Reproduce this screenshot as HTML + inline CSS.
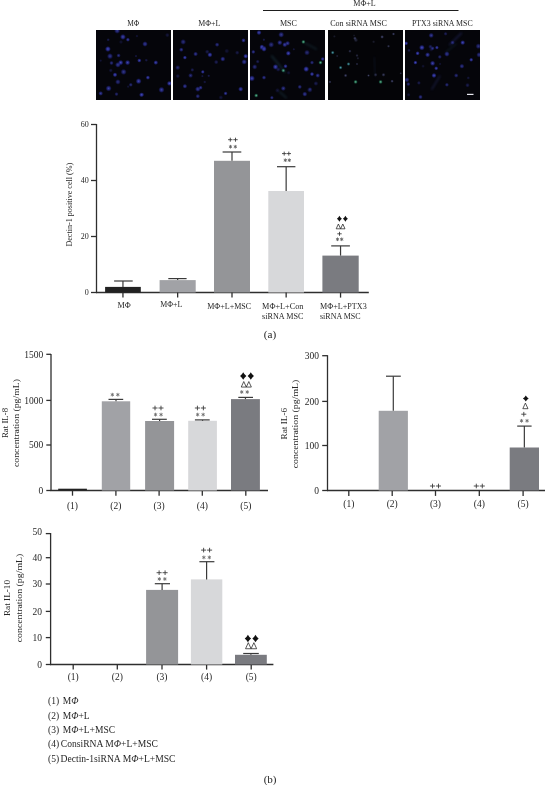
<!DOCTYPE html>
<html><head><meta charset="utf-8"><style>
html,body{margin:0;padding:0;background:#fff;width:545px;height:785px;overflow:hidden}
svg{display:block;will-change:transform;font-family:"Liberation Serif",serif} 
</style></head><body>
<svg width="545" height="785" viewBox="0 0 545 785">
<rect x="96" y="30" width="75" height="70" fill="#05050a"/>
<rect x="173" y="30" width="75" height="70" fill="#05050a"/>
<rect x="250" y="30" width="75" height="70" fill="#05050a"/>
<rect x="328" y="30" width="75" height="70" fill="#040407"/>
<rect x="405" y="30" width="75" height="70" fill="#05050a"/>
<defs><radialGradient id="bd"><stop offset="0" stop-color="#5058d8"/><stop offset="0.55" stop-color="#2a2e9c" stop-opacity="0.8"/><stop offset="1" stop-color="#141660" stop-opacity="0"/></radialGradient><radialGradient id="gd"><stop offset="0" stop-color="#7fd8a8"/><stop offset="0.45" stop-color="#2f8a68" stop-opacity="0.85"/><stop offset="1" stop-color="#10402a" stop-opacity="0"/></radialGradient><radialGradient id="fd4"><stop offset="0" stop-color="#6a70a0"/><stop offset="0.5" stop-color="#3a3e68" stop-opacity="0.8"/><stop offset="1" stop-color="#1a1c30" stop-opacity="0"/></radialGradient><radialGradient id="cd"><stop offset="0" stop-color="#6fc8d0"/><stop offset="0.45" stop-color="#2f7a88" stop-opacity="0.85"/><stop offset="1" stop-color="#10302a" stop-opacity="0"/></radialGradient><clipPath id="pc"><rect x="96" y="30" width="75" height="70"/><rect x="173" y="30" width="75" height="70"/><rect x="250" y="30" width="75" height="70"/><rect x="328" y="30" width="75" height="70"/><rect x="405" y="30" width="75" height="70"/></clipPath></defs>
<g clip-path="url(#pc)">
<circle cx="121.0" cy="42.0" r="2.2" fill="url(#bd)" opacity="0.21"/>
<circle cx="136.0" cy="56.1" r="1.6" fill="url(#bd)" opacity="0.30"/>
<circle cx="100.7" cy="60.6" r="1.6" fill="url(#bd)" opacity="0.22"/>
<circle cx="128.1" cy="86.6" r="1.6" fill="url(#bd)" opacity="0.24"/>
<circle cx="142.5" cy="94.5" r="2.1" fill="url(#bd)" opacity="0.28"/>
<circle cx="167.3" cy="35.1" r="2.4" fill="url(#bd)" opacity="0.26"/>
<circle cx="108.2" cy="39.8" r="1.8" fill="url(#bd)" opacity="0.36"/>
<circle cx="110.8" cy="70.4" r="2.2" fill="url(#bd)" opacity="0.27"/>
<circle cx="136.9" cy="36.1" r="1.6" fill="url(#bd)" opacity="0.24"/>
<circle cx="146.3" cy="60.2" r="1.8" fill="url(#bd)" opacity="0.32"/>
<circle cx="207.2" cy="51.8" r="2.4" fill="url(#bd)" opacity="0.34"/>
<circle cx="192.3" cy="69.9" r="2.1" fill="url(#bd)" opacity="0.38"/>
<circle cx="226.8" cy="51.0" r="2.6" fill="url(#bd)" opacity="0.22"/>
<circle cx="204.7" cy="82.0" r="1.7" fill="url(#bd)" opacity="0.30"/>
<circle cx="177.8" cy="76.1" r="2.3" fill="url(#bd)" opacity="0.31"/>
<circle cx="237.2" cy="52.7" r="2.3" fill="url(#bd)" opacity="0.32"/>
<circle cx="216.2" cy="62.1" r="2.4" fill="url(#bd)" opacity="0.39"/>
<circle cx="208.7" cy="75.8" r="1.6" fill="url(#bd)" opacity="0.34"/>
<circle cx="220.9" cy="97.5" r="2.4" fill="url(#bd)" opacity="0.26"/>
<circle cx="202.4" cy="76.1" r="1.5" fill="url(#bd)" opacity="0.29"/>
<circle cx="263.9" cy="39.7" r="1.6" fill="url(#bd)" opacity="0.35"/>
<circle cx="261.2" cy="48.3" r="1.9" fill="url(#bd)" opacity="0.37"/>
<circle cx="257.7" cy="61.6" r="2.1" fill="url(#bd)" opacity="0.38"/>
<circle cx="310.2" cy="89.0" r="1.8" fill="url(#bd)" opacity="0.28"/>
<circle cx="277.5" cy="90.4" r="2.6" fill="url(#bd)" opacity="0.23"/>
<circle cx="264.5" cy="47.3" r="1.8" fill="url(#bd)" opacity="0.30"/>
<circle cx="293.8" cy="49.3" r="1.5" fill="url(#bd)" opacity="0.28"/>
<circle cx="278.2" cy="69.4" r="2.5" fill="url(#bd)" opacity="0.34"/>
<circle cx="288.6" cy="72.8" r="2.2" fill="url(#bd)" opacity="0.21"/>
<circle cx="315.9" cy="83.5" r="2.5" fill="url(#bd)" opacity="0.36"/>
<circle cx="357.9" cy="58.3" r="1.6" fill="url(#fd4)" opacity="0.33"/>
<circle cx="334.4" cy="36.4" r="1.7" fill="url(#fd4)" opacity="0.23"/>
<circle cx="354.1" cy="35.5" r="1.5" fill="url(#fd4)" opacity="0.23"/>
<circle cx="337.2" cy="56.0" r="1.5" fill="url(#fd4)" opacity="0.37"/>
<circle cx="373.6" cy="41.8" r="1.8" fill="url(#fd4)" opacity="0.27"/>
<circle cx="355.9" cy="40.1" r="2.4" fill="url(#fd4)" opacity="0.40"/>
<circle cx="440.1" cy="63.9" r="1.6" fill="url(#bd)" opacity="0.22"/>
<circle cx="431.3" cy="49.5" r="2.4" fill="url(#bd)" opacity="0.23"/>
<circle cx="408.6" cy="94.8" r="2.1" fill="url(#bd)" opacity="0.23"/>
<circle cx="445.6" cy="33.8" r="2.1" fill="url(#bd)" opacity="0.40"/>
<circle cx="468.3" cy="77.9" r="1.8" fill="url(#bd)" opacity="0.27"/>
<circle cx="418.9" cy="82.9" r="2.1" fill="url(#bd)" opacity="0.36"/>
<circle cx="430.4" cy="46.7" r="2.4" fill="url(#bd)" opacity="0.40"/>
<circle cx="467.5" cy="85.2" r="2.4" fill="url(#bd)" opacity="0.35"/>
<circle cx="423.1" cy="66.2" r="1.9" fill="url(#bd)" opacity="0.21"/>
<circle cx="409.0" cy="50.4" r="1.8" fill="url(#bd)" opacity="0.34"/>
<circle cx="117.2" cy="30.7" r="3.2" fill="url(#bd)" opacity="0.68"/>
<circle cx="107.9" cy="49" r="3.1" fill="url(#bd)" opacity="0.90"/>
<circle cx="110" cy="56.2" r="3.2" fill="url(#bd)" opacity="0.65"/>
<circle cx="111.5" cy="63" r="2.3" fill="url(#bd)" opacity="0.59"/>
<circle cx="118.6" cy="55.5" r="2.3" fill="url(#bd)" opacity="0.58"/>
<circle cx="120.7" cy="62.6" r="2.8" fill="url(#bd)" opacity="0.86"/>
<circle cx="117.9" cy="64.8" r="3.0" fill="url(#bd)" opacity="0.69"/>
<circle cx="127.6" cy="62.6" r="2.8" fill="url(#bd)" opacity="0.82"/>
<circle cx="127.9" cy="39.7" r="2.2" fill="url(#bd)" opacity="0.76"/>
<circle cx="122.9" cy="36.9" r="3.1" fill="url(#bd)" opacity="0.81"/>
<circle cx="145" cy="44" r="2.9" fill="url(#bd)" opacity="0.69"/>
<circle cx="139.3" cy="60.5" r="2.3" fill="url(#bd)" opacity="0.82"/>
<circle cx="155.8" cy="62.6" r="2.5" fill="url(#bd)" opacity="0.82"/>
<circle cx="123.6" cy="71.9" r="3.2" fill="url(#bd)" opacity="0.66"/>
<circle cx="115" cy="74.8" r="2.5" fill="url(#bd)" opacity="0.88"/>
<circle cx="117.9" cy="81.9" r="2.9" fill="url(#bd)" opacity="0.57"/>
<circle cx="130.8" cy="84.8" r="2.2" fill="url(#bd)" opacity="0.56"/>
<circle cx="138.6" cy="81.2" r="3.1" fill="url(#bd)" opacity="0.82"/>
<circle cx="147.9" cy="77.6" r="2.3" fill="url(#bd)" opacity="0.83"/>
<circle cx="108.6" cy="88.4" r="3.2" fill="url(#bd)" opacity="0.76"/>
<circle cx="100.7" cy="93.4" r="2.5" fill="url(#bd)" opacity="0.72"/>
<circle cx="116.5" cy="94.1" r="2.2" fill="url(#bd)" opacity="0.51"/>
<circle cx="161.5" cy="89.8" r="3.2" fill="url(#bd)" opacity="0.76"/>
<circle cx="169.4" cy="83.4" r="2.7" fill="url(#bd)" opacity="0.87"/>
<circle cx="141.5" cy="94.8" r="2.6" fill="url(#bd)" opacity="0.85"/>
<circle cx="183.2" cy="41.9" r="3.0" fill="url(#bd)" opacity="0.58"/>
<circle cx="217.1" cy="44.7" r="2.4" fill="url(#bd)" opacity="0.62"/>
<circle cx="243.5" cy="40.4" r="2.4" fill="url(#bd)" opacity="0.73"/>
<circle cx="181.3" cy="49.7" r="2.4" fill="url(#bd)" opacity="0.67"/>
<circle cx="184.9" cy="57.6" r="2.2" fill="url(#bd)" opacity="0.86"/>
<circle cx="195.6" cy="54" r="2.5" fill="url(#bd)" opacity="0.68"/>
<circle cx="209.9" cy="54.8" r="2.7" fill="url(#bd)" opacity="0.86"/>
<circle cx="245.7" cy="56.2" r="2.6" fill="url(#bd)" opacity="0.87"/>
<circle cx="222.8" cy="59" r="2.7" fill="url(#bd)" opacity="0.71"/>
<circle cx="177.7" cy="67.6" r="2.7" fill="url(#bd)" opacity="0.51"/>
<circle cx="190.6" cy="75.5" r="2.6" fill="url(#bd)" opacity="0.57"/>
<circle cx="202.8" cy="71.9" r="2.1" fill="url(#bd)" opacity="0.82"/>
<circle cx="200.6" cy="87.7" r="2.3" fill="url(#bd)" opacity="0.69"/>
<circle cx="197.8" cy="89.1" r="2.9" fill="url(#bd)" opacity="0.72"/>
<circle cx="184.9" cy="86.2" r="2.5" fill="url(#bd)" opacity="0.71"/>
<circle cx="240.7" cy="89.1" r="2.7" fill="url(#bd)" opacity="0.81"/>
<circle cx="225.6" cy="93.4" r="2.2" fill="url(#bd)" opacity="0.72"/>
<circle cx="197.8" cy="96.2" r="2.4" fill="url(#bd)" opacity="0.61"/>
<circle cx="244.2" cy="61.9" r="2.9" fill="url(#bd)" opacity="0.70"/>
<circle cx="259" cy="32.6" r="2.7" fill="url(#bd)" opacity="0.80"/>
<circle cx="281.2" cy="34.7" r="3.1" fill="url(#bd)" opacity="0.68"/>
<circle cx="279.8" cy="42.6" r="2.8" fill="url(#bd)" opacity="0.70"/>
<circle cx="284.8" cy="44.7" r="2.7" fill="url(#bd)" opacity="0.78"/>
<circle cx="287.6" cy="43.3" r="2.6" fill="url(#bd)" opacity="0.71"/>
<circle cx="261.9" cy="46.9" r="2.6" fill="url(#bd)" opacity="0.88"/>
<circle cx="264" cy="49" r="2.9" fill="url(#bd)" opacity="0.85"/>
<circle cx="271.2" cy="44.7" r="3.1" fill="url(#bd)" opacity="0.60"/>
<circle cx="288.3" cy="53.3" r="2.7" fill="url(#bd)" opacity="0.88"/>
<circle cx="307" cy="52.6" r="3.0" fill="url(#bd)" opacity="0.55"/>
<circle cx="253.3" cy="51.9" r="2.2" fill="url(#bd)" opacity="0.68"/>
<circle cx="312" cy="62.6" r="2.2" fill="url(#bd)" opacity="0.60"/>
<circle cx="322.7" cy="59" r="2.2" fill="url(#bd)" opacity="0.77"/>
<circle cx="275.5" cy="66.9" r="3.0" fill="url(#bd)" opacity="0.86"/>
<circle cx="285.5" cy="66.2" r="2.3" fill="url(#bd)" opacity="0.79"/>
<circle cx="254.7" cy="66.9" r="2.8" fill="url(#bd)" opacity="0.56"/>
<circle cx="306.2" cy="69.1" r="3.1" fill="url(#bd)" opacity="0.89"/>
<circle cx="312" cy="74.1" r="2.3" fill="url(#bd)" opacity="0.88"/>
<circle cx="317.7" cy="75.5" r="2.5" fill="url(#bd)" opacity="0.69"/>
<circle cx="251.9" cy="78.4" r="3.2" fill="url(#bd)" opacity="0.83"/>
<circle cx="264" cy="77.6" r="2.3" fill="url(#bd)" opacity="0.67"/>
<circle cx="283.3" cy="88.4" r="2.7" fill="url(#bd)" opacity="0.64"/>
<circle cx="299.8" cy="86.9" r="2.3" fill="url(#bd)" opacity="0.63"/>
<circle cx="309.8" cy="89.8" r="2.9" fill="url(#bd)" opacity="0.51"/>
<circle cx="304.8" cy="94.1" r="2.7" fill="url(#bd)" opacity="0.68"/>
<circle cx="271.9" cy="97.7" r="2.1" fill="url(#bd)" opacity="0.63"/>
<circle cx="431.2" cy="35.4" r="2.8" fill="url(#bd)" opacity="0.70"/>
<circle cx="406.1" cy="43.3" r="2.2" fill="url(#bd)" opacity="0.89"/>
<circle cx="421.9" cy="47.6" r="3.0" fill="url(#bd)" opacity="0.89"/>
<circle cx="432.6" cy="48.3" r="2.2" fill="url(#bd)" opacity="0.61"/>
<circle cx="436.9" cy="47.6" r="2.1" fill="url(#bd)" opacity="0.81"/>
<circle cx="452.6" cy="42.6" r="2.4" fill="url(#bd)" opacity="0.55"/>
<circle cx="462.7" cy="42.6" r="2.6" fill="url(#bd)" opacity="0.86"/>
<circle cx="478.4" cy="46.2" r="3.0" fill="url(#bd)" opacity="0.60"/>
<circle cx="417.6" cy="53.3" r="2.3" fill="url(#bd)" opacity="0.87"/>
<circle cx="427.6" cy="54.8" r="2.7" fill="url(#bd)" opacity="0.78"/>
<circle cx="439.8" cy="56.9" r="2.2" fill="url(#bd)" opacity="0.52"/>
<circle cx="446.9" cy="54" r="2.9" fill="url(#bd)" opacity="0.67"/>
<circle cx="415.4" cy="62.6" r="2.2" fill="url(#bd)" opacity="0.88"/>
<circle cx="432.6" cy="63.3" r="2.8" fill="url(#bd)" opacity="0.82"/>
<circle cx="436.2" cy="68.3" r="2.2" fill="url(#bd)" opacity="0.84"/>
<circle cx="471.2" cy="59.8" r="2.2" fill="url(#bd)" opacity="0.85"/>
<circle cx="461.9" cy="66.2" r="2.6" fill="url(#bd)" opacity="0.64"/>
<circle cx="434" cy="75.5" r="2.7" fill="url(#bd)" opacity="0.87"/>
<circle cx="456.2" cy="75.5" r="2.4" fill="url(#bd)" opacity="0.55"/>
<circle cx="406.9" cy="79.8" r="2.7" fill="url(#bd)" opacity="0.60"/>
<circle cx="408.3" cy="84.1" r="2.2" fill="url(#bd)" opacity="0.56"/>
<circle cx="446.9" cy="84.8" r="2.2" fill="url(#bd)" opacity="0.58"/>
<circle cx="420.5" cy="97" r="2.4" fill="url(#bd)" opacity="0.62"/>
<circle cx="479.1" cy="54.8" r="2.9" fill="url(#bd)" opacity="0.62"/>
<circle cx="349.9" cy="51.2" r="1.8" fill="url(#fd4)" opacity="0.50"/>
<circle cx="357" cy="55.5" r="1.7" fill="url(#fd4)" opacity="0.46"/>
<circle cx="357" cy="64" r="1.6" fill="url(#fd4)" opacity="0.45"/>
<circle cx="345.6" cy="75.5" r="2.0" fill="url(#fd4)" opacity="0.62"/>
<circle cx="368.5" cy="75.5" r="1.6" fill="url(#fd4)" opacity="0.59"/>
<circle cx="375.6" cy="74.8" r="2.1" fill="url(#fd4)" opacity="0.48"/>
<circle cx="383.5" cy="74.8" r="2.1" fill="url(#fd4)" opacity="0.58"/>
<circle cx="392.1" cy="81.2" r="1.8" fill="url(#fd4)" opacity="0.70"/>
<circle cx="329.9" cy="81.9" r="1.7" fill="url(#fd4)" opacity="0.60"/>
<circle cx="382.1" cy="36.9" r="2.0" fill="url(#fd4)" opacity="0.74"/>
<circle cx="393.5" cy="34" r="1.7" fill="url(#fd4)" opacity="0.70"/>
<circle cx="354.9" cy="38.3" r="2.0" fill="url(#fd4)" opacity="0.64"/>
<circle cx="388.5" cy="46.2" r="1.7" fill="url(#fd4)" opacity="0.55"/>
<circle cx="400.7" cy="73.3" r="1.4" fill="url(#fd4)" opacity="0.49"/>
<circle cx="303.4" cy="41.9" r="2.3" fill="url(#gd)" opacity="0.85"/>
<circle cx="320.5" cy="62.6" r="2.3" fill="url(#gd)" opacity="0.85"/>
<circle cx="283.3" cy="70.5" r="2.3" fill="url(#gd)" opacity="0.85"/>
<circle cx="256.2" cy="95.5" r="2.3" fill="url(#gd)" opacity="0.85"/>
<circle cx="380.6" cy="81.9" r="2.3" fill="url(#gd)" opacity="0.85"/>
<circle cx="355.6" cy="81.9" r="2.3" fill="url(#gd)" opacity="0.85"/>
<circle cx="332.7" cy="52.6" r="2.1" fill="url(#cd)" opacity="0.8"/>
<circle cx="348.5" cy="64" r="2.1" fill="url(#cd)" opacity="0.8"/>
<circle cx="340.6" cy="67.6" r="2.1" fill="url(#cd)" opacity="0.8"/>
<filter id="bl" x="-20%" y="-20%" width="140%" height="140%"><feGaussianBlur stdDeviation="0.9"/></filter>
<line filter="url(#bl)"  x1="271.9" y1="56.2" x2="284.8" y2="71.9" stroke="#2a5a6a" stroke-width="2.2" stroke-linecap="round" opacity="0.3"/>
<line filter="url(#bl)"  x1="305.5" y1="43.3" x2="316.2" y2="49" stroke="#2a5a6a" stroke-width="1.8" stroke-linecap="round" opacity="0.27"/>
<line filter="url(#bl)"  x1="279.8" y1="92" x2="286.2" y2="97.7" stroke="#2a5a6a" stroke-width="2" stroke-linecap="round" opacity="0.27"/>
<line filter="url(#bl)"  x1="449.8" y1="44.7" x2="461.2" y2="33.3" stroke="#3a44a0" stroke-width="1.8" stroke-linecap="round" opacity="0.33"/>
<line filter="url(#bl)"  x1="439.8" y1="76.2" x2="431.9" y2="89.1" stroke="#3a44a0" stroke-width="1.6" stroke-linecap="round" opacity="0.3"/>
<line filter="url(#bl)"  x1="374.2" y1="57.6" x2="375.6" y2="76.2" stroke="#1e2a4a" stroke-width="1.5" stroke-linecap="round" opacity="0.3"/>
<line filter="url(#bl)"  x1="446" y1="52" x2="456" y2="44" stroke="#2a5a6a" stroke-width="1.5" stroke-linecap="round" opacity="0.24"/>
</g>
<rect x="467" y="93.8" width="6.5" height="1.2" fill="#e8e8f0"/>
<text x="133.2" y="25.6" font-size="8.2" text-anchor="middle" fill="#262626" textLength="12.1" lengthAdjust="spacingAndGlyphs" >MΦ</text>
<text x="209.3" y="25.6" font-size="8.2" text-anchor="middle" fill="#262626" textLength="22" lengthAdjust="spacingAndGlyphs" >MΦ+L</text>
<text x="288.4" y="25.6" font-size="8.2" text-anchor="middle" fill="#262626" textLength="17" lengthAdjust="spacingAndGlyphs" >MSC</text>
<text x="358.5" y="25.6" font-size="8.2" text-anchor="middle" fill="#262626" textLength="56.6" lengthAdjust="spacingAndGlyphs" >Con siRNA MSC</text>
<text x="442.3" y="25.6" font-size="8.2" text-anchor="middle" fill="#262626" textLength="60.7" lengthAdjust="spacingAndGlyphs" >PTX3 siRNA MSC</text>
<text x="364.5" y="5.6" font-size="8.2" text-anchor="middle" fill="#262626" textLength="22.5" lengthAdjust="spacingAndGlyphs" >MΦ+L</text>
<line x1="263" y1="10.5" x2="458.5" y2="10.5" stroke="#1e1e1e" stroke-width="1.0"/>
<line x1="96.5" y1="124.0" x2="96.5" y2="293.1" stroke="#2e2e2e" stroke-width="1.3"/>
<line x1="95.9" y1="292.5" x2="368.8" y2="292.5" stroke="#2e2e2e" stroke-width="1.3"/>
<line x1="91.0" y1="292.5" x2="96.5" y2="292.5" stroke="#2e2e2e" stroke-width="1.3"/>
<text x="88.7" y="295.22" font-size="8" text-anchor="end" fill="#262626" >0</text>
<line x1="91.0" y1="236.5" x2="96.5" y2="236.5" stroke="#2e2e2e" stroke-width="1.3"/>
<text x="88.7" y="239.22" font-size="8" text-anchor="end" fill="#262626" >20</text>
<line x1="91.0" y1="180.5" x2="96.5" y2="180.5" stroke="#2e2e2e" stroke-width="1.3"/>
<text x="88.7" y="183.22" font-size="8" text-anchor="end" fill="#262626" >40</text>
<line x1="91.0" y1="124.5" x2="96.5" y2="124.5" stroke="#2e2e2e" stroke-width="1.3"/>
<text x="88.7" y="127.22" font-size="8" text-anchor="end" fill="#262626" >60</text>
<rect x="105.1" y="286.9" width="35.70000000000002" height="5.600000000000023" fill="#222222"/>
<line x1="122.95" y1="281.0" x2="122.95" y2="286.9" stroke="#3a3a3a" stroke-width="1.2"/>
<line x1="114.1" y1="281.0" x2="132.7" y2="281.0" stroke="#3a3a3a" stroke-width="1.2"/>
<line x1="122.95" y1="292.5" x2="122.95" y2="297.6" stroke="#2e2e2e" stroke-width="1.3"/>
<rect x="159.6" y="280.1" width="36.099999999999994" height="12.399999999999977" fill="#a1a2a6"/>
<line x1="177.64999999999998" y1="278.6" x2="177.64999999999998" y2="280.1" stroke="#3a3a3a" stroke-width="1.2"/>
<line x1="168.3" y1="278.6" x2="186.6" y2="278.6" stroke="#3a3a3a" stroke-width="1.2"/>
<line x1="177.64999999999998" y1="292.5" x2="177.64999999999998" y2="297.6" stroke="#2e2e2e" stroke-width="1.3"/>
<rect x="214.0" y="160.8" width="36.0" height="131.7" fill="#949598"/>
<line x1="232.0" y1="152.0" x2="232.0" y2="160.8" stroke="#3a3a3a" stroke-width="1.2"/>
<line x1="222.6" y1="152.0" x2="241.3" y2="152.0" stroke="#3a3a3a" stroke-width="1.2"/>
<line x1="232.0" y1="292.5" x2="232.0" y2="297.6" stroke="#2e2e2e" stroke-width="1.3"/>
<rect x="268.3" y="191.0" width="35.69999999999999" height="101.5" fill="#d7d8da"/>
<line x1="286.15" y1="166.7" x2="286.15" y2="191.0" stroke="#3a3a3a" stroke-width="1.2"/>
<line x1="277.0" y1="166.7" x2="295.4" y2="166.7" stroke="#3a3a3a" stroke-width="1.2"/>
<line x1="286.15" y1="292.5" x2="286.15" y2="297.6" stroke="#2e2e2e" stroke-width="1.3"/>
<rect x="322.4" y="255.6" width="36.30000000000001" height="36.900000000000006" fill="#7a7b80"/>
<line x1="340.54999999999995" y1="245.9" x2="340.54999999999995" y2="255.6" stroke="#3a3a3a" stroke-width="1.2"/>
<line x1="331.2" y1="245.9" x2="349.9" y2="245.9" stroke="#3a3a3a" stroke-width="1.2"/>
<line x1="340.54999999999995" y1="292.5" x2="340.54999999999995" y2="297.6" stroke="#2e2e2e" stroke-width="1.3"/>
<line x1="230.5" y1="144.9" x2="230.5" y2="148.5" stroke="#626262" stroke-width="0.9"/>
<line x1="228.94" y1="145.8" x2="232.06" y2="147.6" stroke="#626262" stroke-width="0.9"/>
<line x1="232.06" y1="145.8" x2="228.94" y2="147.6" stroke="#626262" stroke-width="0.9"/>
<line x1="235.3" y1="144.9" x2="235.3" y2="148.5" stroke="#626262" stroke-width="0.9"/>
<line x1="233.74" y1="145.8" x2="236.86" y2="147.6" stroke="#626262" stroke-width="0.9"/>
<line x1="236.86" y1="145.8" x2="233.74" y2="147.6" stroke="#626262" stroke-width="0.9"/>
<line x1="228.10000000000002" y1="139.7" x2="232.5" y2="139.7" stroke="#333" stroke-width="0.85"/>
<line x1="230.3" y1="137.7" x2="230.3" y2="141.7" stroke="#333" stroke-width="0.85"/>
<line x1="233.3" y1="139.7" x2="237.7" y2="139.7" stroke="#333" stroke-width="0.85"/>
<line x1="235.5" y1="137.7" x2="235.5" y2="141.7" stroke="#333" stroke-width="0.85"/>
<line x1="285.3" y1="158.4" x2="285.3" y2="162.0" stroke="#626262" stroke-width="0.9"/>
<line x1="283.74" y1="159.3" x2="286.86" y2="161.1" stroke="#626262" stroke-width="0.9"/>
<line x1="286.86" y1="159.3" x2="283.74" y2="161.1" stroke="#626262" stroke-width="0.9"/>
<line x1="289.3" y1="158.4" x2="289.3" y2="162.0" stroke="#626262" stroke-width="0.9"/>
<line x1="287.74" y1="159.3" x2="290.86" y2="161.1" stroke="#626262" stroke-width="0.9"/>
<line x1="290.86" y1="159.3" x2="287.74" y2="161.1" stroke="#626262" stroke-width="0.9"/>
<line x1="282.0" y1="153.6" x2="286.4" y2="153.6" stroke="#333" stroke-width="0.85"/>
<line x1="284.2" y1="151.6" x2="284.2" y2="155.6" stroke="#333" stroke-width="0.85"/>
<line x1="286.6" y1="153.6" x2="291.0" y2="153.6" stroke="#333" stroke-width="0.85"/>
<line x1="288.8" y1="151.6" x2="288.8" y2="155.6" stroke="#333" stroke-width="0.85"/>
<line x1="337.5" y1="237.5" x2="337.5" y2="241.1" stroke="#626262" stroke-width="0.9"/>
<line x1="335.94" y1="238.4" x2="339.06" y2="240.2" stroke="#626262" stroke-width="0.9"/>
<line x1="339.06" y1="238.4" x2="335.94" y2="240.2" stroke="#626262" stroke-width="0.9"/>
<line x1="341.7" y1="237.5" x2="341.7" y2="241.1" stroke="#626262" stroke-width="0.9"/>
<line x1="340.14" y1="238.4" x2="343.26" y2="240.2" stroke="#626262" stroke-width="0.9"/>
<line x1="343.26" y1="238.4" x2="340.14" y2="240.2" stroke="#626262" stroke-width="0.9"/>
<line x1="337.3" y1="233.8" x2="341.7" y2="233.8" stroke="#333" stroke-width="0.85"/>
<line x1="339.5" y1="231.8" x2="339.5" y2="235.8" stroke="#333" stroke-width="0.85"/>
<path d="M336.20,228.80 L338.40,224.00 L340.60,228.80 Z" fill="none" stroke="#222" stroke-width="0.75" stroke-linejoin="miter"/>
<path d="M340.60,228.80 L342.80,224.00 L345.00,228.80 Z" fill="none" stroke="#222" stroke-width="0.75" stroke-linejoin="miter"/>
<path d="M339.40,215.70 Q340.35,217.56 341.90,218.70 Q340.35,219.84 339.40,221.70 Q338.45,219.84 336.90,218.70 Q338.45,217.56 339.40,215.70 Z" fill="#111"/>
<path d="M345.40,215.70 Q346.35,217.56 347.90,218.70 Q346.35,219.84 345.40,221.70 Q344.45,219.84 342.90,218.70 Q344.45,217.56 345.40,215.70 Z" fill="#111"/>
<text x="124.2" y="308" font-size="8" text-anchor="middle" fill="#262626" textLength="13.2" lengthAdjust="spacingAndGlyphs" >MΦ</text>
<text x="171.2" y="306.5" font-size="8" text-anchor="middle" fill="#262626" textLength="22" lengthAdjust="spacingAndGlyphs" >MΦ+L</text>
<text x="229.2" y="309" font-size="8" text-anchor="middle" fill="#262626" textLength="44" lengthAdjust="spacingAndGlyphs" >MΦ+L+MSC</text>
<text x="262.1" y="308.5" font-size="8" text-anchor="start" fill="#262626" textLength="41.4" lengthAdjust="spacingAndGlyphs" >MΦ+L+Con</text>
<text x="262.1" y="319.3" font-size="8" text-anchor="start" fill="#262626" textLength="41.4" lengthAdjust="spacingAndGlyphs" >siRNA MSC</text>
<text x="320" y="308.5" font-size="8" text-anchor="start" fill="#262626" textLength="46.7" lengthAdjust="spacingAndGlyphs" >MΦ+L+PTX3</text>
<text x="320" y="319.3" font-size="8" text-anchor="start" fill="#262626" textLength="40.6" lengthAdjust="spacingAndGlyphs" >siRNA MSC</text>
<text transform="translate(71.5,204.7) rotate(-90)" font-size="8.5" text-anchor="middle" fill="#262626" textLength="83.8" lengthAdjust="spacingAndGlyphs">Dectin-1 positive cell (%)</text>
<text x="270.0" y="338.4" font-size="11" text-anchor="middle" fill="#262626" textLength="12.4" lengthAdjust="spacingAndGlyphs" >(a)</text>
<line x1="51.0" y1="354.0" x2="51.0" y2="491.1" stroke="#2e2e2e" stroke-width="1.3"/>
<line x1="50.4" y1="490.5" x2="268.0" y2="490.5" stroke="#2e2e2e" stroke-width="1.3"/>
<line x1="46.3" y1="490.5" x2="51.0" y2="490.5" stroke="#2e2e2e" stroke-width="1.3"/>
<text x="43.3" y="493.73" font-size="9.5" text-anchor="end" fill="#262626" >0</text>
<line x1="46.3" y1="445.0" x2="51.0" y2="445.0" stroke="#2e2e2e" stroke-width="1.3"/>
<text x="43.3" y="448.23" font-size="9.5" text-anchor="end" fill="#262626" >500</text>
<line x1="46.3" y1="400.4" x2="51.0" y2="400.4" stroke="#2e2e2e" stroke-width="1.3"/>
<text x="43.3" y="403.63" font-size="9.5" text-anchor="end" fill="#262626" >1000</text>
<line x1="46.3" y1="354.3" x2="51.0" y2="354.3" stroke="#2e2e2e" stroke-width="1.3"/>
<text x="43.3" y="357.53" font-size="9.5" text-anchor="end" fill="#262626" >1500</text>
<line x1="72.5" y1="490.5" x2="72.5" y2="495.7" stroke="#2e2e2e" stroke-width="1.3"/>
<text x="72.5" y="508.6" font-size="9.5" text-anchor="middle" fill="#262626" >(1)</text>
<line x1="115.9" y1="490.5" x2="115.9" y2="495.7" stroke="#2e2e2e" stroke-width="1.3"/>
<text x="115.9" y="508.6" font-size="9.5" text-anchor="middle" fill="#262626" >(2)</text>
<line x1="159.1" y1="490.5" x2="159.1" y2="495.7" stroke="#2e2e2e" stroke-width="1.3"/>
<text x="159.1" y="508.6" font-size="9.5" text-anchor="middle" fill="#262626" >(3)</text>
<line x1="202.3" y1="490.5" x2="202.3" y2="495.7" stroke="#2e2e2e" stroke-width="1.3"/>
<text x="202.3" y="508.6" font-size="9.5" text-anchor="middle" fill="#262626" >(4)</text>
<line x1="245.8" y1="490.5" x2="245.8" y2="495.7" stroke="#2e2e2e" stroke-width="1.3"/>
<text x="245.8" y="508.6" font-size="9.5" text-anchor="middle" fill="#262626" >(5)</text>
<rect x="58.2" y="488.7" width="28.700000000000003" height="1.8000000000000114" fill="#222222"/>
<rect x="101.8" y="401.3" width="28.39999999999999" height="89.19999999999999" fill="#a1a2a6"/>
<line x1="116.0" y1="399.4" x2="116.0" y2="401.3" stroke="#3a3a3a" stroke-width="1.2"/>
<line x1="108.5" y1="399.4" x2="123.2" y2="399.4" stroke="#3a3a3a" stroke-width="1.2"/>
<rect x="145.1" y="421.0" width="29.0" height="69.5" fill="#949598"/>
<line x1="159.6" y1="419.3" x2="159.6" y2="421.0" stroke="#3a3a3a" stroke-width="1.2"/>
<line x1="152.0" y1="419.3" x2="166.8" y2="419.3" stroke="#3a3a3a" stroke-width="1.2"/>
<rect x="188.2" y="420.8" width="28.700000000000017" height="69.69999999999999" fill="#d7d8da"/>
<line x1="202.55" y1="419.9" x2="202.55" y2="420.8" stroke="#3a3a3a" stroke-width="1.2"/>
<line x1="194.9" y1="419.9" x2="209.7" y2="419.9" stroke="#3a3a3a" stroke-width="1.2"/>
<rect x="231.0" y="399.1" width="28.899999999999977" height="91.39999999999998" fill="#7a7b80"/>
<line x1="245.45" y1="397.4" x2="245.45" y2="399.1" stroke="#3a3a3a" stroke-width="1.2"/>
<line x1="238.3" y1="397.4" x2="253.0" y2="397.4" stroke="#3a3a3a" stroke-width="1.2"/>
<line x1="112.34" y1="392.85" x2="112.34" y2="396.55" stroke="#6e6e6e" stroke-width="0.9"/>
<line x1="110.74" y1="393.77" x2="113.94" y2="395.62" stroke="#6e6e6e" stroke-width="0.9"/>
<line x1="113.94" y1="393.77" x2="110.74" y2="395.62" stroke="#6e6e6e" stroke-width="0.9"/>
<line x1="117.86" y1="392.85" x2="117.86" y2="396.55" stroke="#6e6e6e" stroke-width="0.9"/>
<line x1="116.26" y1="393.77" x2="119.46" y2="395.62" stroke="#6e6e6e" stroke-width="0.9"/>
<line x1="119.46" y1="393.77" x2="116.26" y2="395.62" stroke="#6e6e6e" stroke-width="0.9"/>
<line x1="155.54" y1="412.75" x2="155.54" y2="416.45" stroke="#6e6e6e" stroke-width="0.9"/>
<line x1="153.94" y1="413.68" x2="157.14" y2="415.53" stroke="#6e6e6e" stroke-width="0.9"/>
<line x1="157.14" y1="413.68" x2="153.94" y2="415.53" stroke="#6e6e6e" stroke-width="0.9"/>
<line x1="161.06" y1="412.75" x2="161.06" y2="416.45" stroke="#6e6e6e" stroke-width="0.9"/>
<line x1="159.46" y1="413.68" x2="162.66" y2="415.53" stroke="#6e6e6e" stroke-width="0.9"/>
<line x1="162.66" y1="413.68" x2="159.46" y2="415.53" stroke="#6e6e6e" stroke-width="0.9"/>
<line x1="152.48" y1="408" x2="157.54" y2="408" stroke="#333" stroke-width="0.85"/>
<line x1="155.01" y1="405.7" x2="155.01" y2="410.3" stroke="#333" stroke-width="0.85"/>
<line x1="158.46" y1="408" x2="163.52" y2="408" stroke="#333" stroke-width="0.85"/>
<line x1="160.99" y1="405.7" x2="160.99" y2="410.3" stroke="#333" stroke-width="0.85"/>
<line x1="197.64" y1="412.75" x2="197.64" y2="416.45" stroke="#6e6e6e" stroke-width="0.9"/>
<line x1="196.04" y1="413.68" x2="199.24" y2="415.53" stroke="#6e6e6e" stroke-width="0.9"/>
<line x1="199.24" y1="413.68" x2="196.04" y2="415.53" stroke="#6e6e6e" stroke-width="0.9"/>
<line x1="203.16" y1="412.75" x2="203.16" y2="416.45" stroke="#6e6e6e" stroke-width="0.9"/>
<line x1="201.56" y1="413.68" x2="204.76" y2="415.53" stroke="#6e6e6e" stroke-width="0.9"/>
<line x1="204.76" y1="413.68" x2="201.56" y2="415.53" stroke="#6e6e6e" stroke-width="0.9"/>
<line x1="194.88" y1="408" x2="199.94" y2="408" stroke="#333" stroke-width="0.85"/>
<line x1="197.41" y1="405.7" x2="197.41" y2="410.3" stroke="#333" stroke-width="0.85"/>
<line x1="200.86" y1="408" x2="205.92000000000002" y2="408" stroke="#333" stroke-width="0.85"/>
<line x1="203.39000000000001" y1="405.7" x2="203.39000000000001" y2="410.3" stroke="#333" stroke-width="0.85"/>
<line x1="241.74" y1="390.15" x2="241.74" y2="393.85" stroke="#6e6e6e" stroke-width="0.9"/>
<line x1="240.14" y1="391.07" x2="243.34" y2="392.93" stroke="#6e6e6e" stroke-width="0.9"/>
<line x1="243.34" y1="391.07" x2="240.14" y2="392.93" stroke="#6e6e6e" stroke-width="0.9"/>
<line x1="247.26" y1="390.15" x2="247.26" y2="393.85" stroke="#6e6e6e" stroke-width="0.9"/>
<line x1="245.66" y1="391.07" x2="248.86" y2="392.93" stroke="#6e6e6e" stroke-width="0.9"/>
<line x1="248.86" y1="391.07" x2="245.66" y2="392.93" stroke="#6e6e6e" stroke-width="0.9"/>
<path d="M241.24,387.06 L243.77,381.54 L246.30,387.06 Z" fill="none" stroke="#222" stroke-width="0.75" stroke-linejoin="miter"/>
<path d="M246.30,387.06 L248.83,381.54 L251.36,387.06 Z" fill="none" stroke="#222" stroke-width="0.75" stroke-linejoin="miter"/>
<path d="M243.21,372.20 Q244.41,374.56 246.37,376.00 Q244.41,377.44 243.21,379.80 Q242.00,377.44 240.04,376.00 Q242.00,374.56 243.21,372.20 Z" fill="#111"/>
<path d="M250.79,372.20 Q252.00,374.56 253.96,376.00 Q252.00,377.44 250.79,379.80 Q249.59,377.44 247.63,376.00 Q249.59,374.56 250.79,372.20 Z" fill="#111"/>
<text transform="translate(7.6,423) rotate(-90)" font-size="8.8" text-anchor="middle" fill="#262626" textLength="30.2" lengthAdjust="spacingAndGlyphs">Rat IL-8</text>
<text transform="translate(18.9,423) rotate(-90)" font-size="8.8" text-anchor="middle" fill="#262626" textLength="88" lengthAdjust="spacingAndGlyphs">concentration (pg/mL)</text>
<line x1="327.5" y1="355.2" x2="327.5" y2="491.1" stroke="#2e2e2e" stroke-width="1.3"/>
<line x1="326.9" y1="490.5" x2="545.0" y2="490.5" stroke="#2e2e2e" stroke-width="1.3"/>
<line x1="322.2" y1="490.5" x2="327.5" y2="490.5" stroke="#2e2e2e" stroke-width="1.3"/>
<text x="319.0" y="493.73" font-size="9.5" text-anchor="end" fill="#262626" >0</text>
<line x1="322.2" y1="445.5" x2="327.5" y2="445.5" stroke="#2e2e2e" stroke-width="1.3"/>
<text x="319.0" y="448.73" font-size="9.5" text-anchor="end" fill="#262626" >100</text>
<line x1="322.2" y1="401.4" x2="327.5" y2="401.4" stroke="#2e2e2e" stroke-width="1.3"/>
<text x="319.0" y="404.63" font-size="9.5" text-anchor="end" fill="#262626" >200</text>
<line x1="322.2" y1="355.7" x2="327.5" y2="355.7" stroke="#2e2e2e" stroke-width="1.3"/>
<text x="319.0" y="358.93" font-size="9.5" text-anchor="end" fill="#262626" >300</text>
<line x1="348.8" y1="490.5" x2="348.8" y2="495.9" stroke="#2e2e2e" stroke-width="1.3"/>
<text x="348.8" y="507.3" font-size="9.5" text-anchor="middle" fill="#262626" >(1)</text>
<line x1="392.2" y1="490.5" x2="392.2" y2="495.9" stroke="#2e2e2e" stroke-width="1.3"/>
<text x="392.2" y="507.3" font-size="9.5" text-anchor="middle" fill="#262626" >(2)</text>
<line x1="435.5" y1="490.5" x2="435.5" y2="495.9" stroke="#2e2e2e" stroke-width="1.3"/>
<text x="435.5" y="507.3" font-size="9.5" text-anchor="middle" fill="#262626" >(3)</text>
<line x1="479.3" y1="490.5" x2="479.3" y2="495.9" stroke="#2e2e2e" stroke-width="1.3"/>
<text x="479.3" y="507.3" font-size="9.5" text-anchor="middle" fill="#262626" >(4)</text>
<line x1="523.1" y1="490.5" x2="523.1" y2="495.9" stroke="#2e2e2e" stroke-width="1.3"/>
<text x="523.1" y="507.3" font-size="9.5" text-anchor="middle" fill="#262626" >(5)</text>
<rect x="378.7" y="410.8" width="29.19999999999999" height="79.69999999999999" fill="#a1a2a6"/>
<line x1="393.29999999999995" y1="376.2" x2="393.29999999999995" y2="410.8" stroke="#3a3a3a" stroke-width="1.2"/>
<line x1="386.0" y1="376.2" x2="400.8" y2="376.2" stroke="#3a3a3a" stroke-width="1.2"/>
<rect x="509.7" y="447.5" width="29.30000000000001" height="43.0" fill="#7a7b80"/>
<line x1="524.35" y1="426.1" x2="524.35" y2="447.5" stroke="#3a3a3a" stroke-width="1.2"/>
<line x1="517.2" y1="426.1" x2="531.6" y2="426.1" stroke="#3a3a3a" stroke-width="1.2"/>
<line x1="429.98" y1="486" x2="435.03999999999996" y2="486" stroke="#333" stroke-width="0.85"/>
<line x1="432.51" y1="483.7" x2="432.51" y2="488.3" stroke="#333" stroke-width="0.85"/>
<line x1="435.96000000000004" y1="486" x2="441.02" y2="486" stroke="#333" stroke-width="0.85"/>
<line x1="438.49" y1="483.7" x2="438.49" y2="488.3" stroke="#333" stroke-width="0.85"/>
<line x1="473.78000000000003" y1="486" x2="478.84" y2="486" stroke="#333" stroke-width="0.85"/>
<line x1="476.31" y1="483.7" x2="476.31" y2="488.3" stroke="#333" stroke-width="0.85"/>
<line x1="479.76000000000005" y1="486" x2="484.82" y2="486" stroke="#333" stroke-width="0.85"/>
<line x1="482.29" y1="483.7" x2="482.29" y2="488.3" stroke="#333" stroke-width="0.85"/>
<line x1="521.54" y1="418.95" x2="521.54" y2="422.65" stroke="#6e6e6e" stroke-width="0.9"/>
<line x1="519.94" y1="419.88" x2="523.14" y2="421.73" stroke="#6e6e6e" stroke-width="0.9"/>
<line x1="523.14" y1="419.88" x2="519.94" y2="421.73" stroke="#6e6e6e" stroke-width="0.9"/>
<line x1="527.06" y1="418.95" x2="527.06" y2="422.65" stroke="#6e6e6e" stroke-width="0.9"/>
<line x1="525.46" y1="419.88" x2="528.66" y2="421.73" stroke="#6e6e6e" stroke-width="0.9"/>
<line x1="528.66" y1="419.88" x2="525.46" y2="421.73" stroke="#6e6e6e" stroke-width="0.9"/>
<line x1="521.27" y1="414.2" x2="526.3299999999999" y2="414.2" stroke="#333" stroke-width="0.85"/>
<line x1="523.8" y1="411.9" x2="523.8" y2="416.5" stroke="#333" stroke-width="0.85"/>
<path d="M522.80,408.70 L525.40,403.10 L528.00,408.70 Z" fill="none" stroke="#222" stroke-width="0.75" stroke-linejoin="miter"/>
<path d="M525.80,395.40 Q526.90,397.26 528.70,398.40 Q526.90,399.54 525.80,401.40 Q524.70,399.54 522.90,398.40 Q524.70,397.26 525.80,395.40 Z" fill="#111"/>
<text transform="translate(286.5,423.7) rotate(-90)" font-size="8.8" text-anchor="middle" fill="#262626" textLength="31.5" lengthAdjust="spacingAndGlyphs">Rat IL-6</text>
<text transform="translate(298.0,424) rotate(-90)" font-size="8.8" text-anchor="middle" fill="#262626" textLength="88.6" lengthAdjust="spacingAndGlyphs">concentration (pg/mL)</text>
<line x1="50.6" y1="533.0" x2="50.6" y2="665.1" stroke="#2e2e2e" stroke-width="1.3"/>
<line x1="50.0" y1="664.5" x2="273.4" y2="664.5" stroke="#2e2e2e" stroke-width="1.3"/>
<line x1="45.8" y1="664.5" x2="50.6" y2="664.5" stroke="#2e2e2e" stroke-width="1.3"/>
<text x="42.1" y="667.73" font-size="9.5" text-anchor="end" fill="#262626" >0</text>
<line x1="45.8" y1="637.6" x2="50.6" y2="637.6" stroke="#2e2e2e" stroke-width="1.3"/>
<text x="42.1" y="640.83" font-size="9.5" text-anchor="end" fill="#262626" >10</text>
<line x1="45.8" y1="611.4" x2="50.6" y2="611.4" stroke="#2e2e2e" stroke-width="1.3"/>
<text x="42.1" y="614.63" font-size="9.5" text-anchor="end" fill="#262626" >20</text>
<line x1="45.8" y1="584.0" x2="50.6" y2="584.0" stroke="#2e2e2e" stroke-width="1.3"/>
<text x="42.1" y="587.23" font-size="9.5" text-anchor="end" fill="#262626" >30</text>
<line x1="45.8" y1="557.7" x2="50.6" y2="557.7" stroke="#2e2e2e" stroke-width="1.3"/>
<text x="42.1" y="560.93" font-size="9.5" text-anchor="end" fill="#262626" >40</text>
<line x1="45.8" y1="533.6" x2="50.6" y2="533.6" stroke="#2e2e2e" stroke-width="1.3"/>
<text x="42.1" y="534.83" font-size="9.5" text-anchor="end" fill="#262626" >50</text>
<line x1="73.2" y1="664.5" x2="73.2" y2="669.6" stroke="#2e2e2e" stroke-width="1.3"/>
<text x="73.2" y="679.7" font-size="9.5" text-anchor="middle" fill="#262626" >(1)</text>
<line x1="117.3" y1="664.5" x2="117.3" y2="669.6" stroke="#2e2e2e" stroke-width="1.3"/>
<text x="117.3" y="679.7" font-size="9.5" text-anchor="middle" fill="#262626" >(2)</text>
<line x1="162.0" y1="664.5" x2="162.0" y2="669.6" stroke="#2e2e2e" stroke-width="1.3"/>
<text x="162.0" y="679.7" font-size="9.5" text-anchor="middle" fill="#262626" >(3)</text>
<line x1="206.6" y1="664.5" x2="206.6" y2="669.6" stroke="#2e2e2e" stroke-width="1.3"/>
<text x="206.6" y="679.7" font-size="9.5" text-anchor="middle" fill="#262626" >(4)</text>
<line x1="251.2" y1="664.5" x2="251.2" y2="669.6" stroke="#2e2e2e" stroke-width="1.3"/>
<text x="251.2" y="679.7" font-size="9.5" text-anchor="middle" fill="#262626" >(5)</text>
<rect x="146.1" y="589.9" width="32.0" height="74.60000000000002" fill="#949598"/>
<line x1="162.1" y1="583.7" x2="162.1" y2="589.9" stroke="#3a3a3a" stroke-width="1.2"/>
<line x1="154.8" y1="583.7" x2="170.0" y2="583.7" stroke="#3a3a3a" stroke-width="1.2"/>
<rect x="190.9" y="579.4" width="31.400000000000006" height="85.10000000000002" fill="#d7d8da"/>
<line x1="206.60000000000002" y1="561.7" x2="206.60000000000002" y2="579.4" stroke="#3a3a3a" stroke-width="1.2"/>
<line x1="199.4" y1="561.7" x2="214.4" y2="561.7" stroke="#3a3a3a" stroke-width="1.2"/>
<rect x="235.0" y="654.8" width="31.80000000000001" height="9.700000000000045" fill="#7a7b80"/>
<line x1="250.9" y1="653.5" x2="250.9" y2="654.8" stroke="#3a3a3a" stroke-width="1.2"/>
<line x1="243.2" y1="653.5" x2="258.8" y2="653.5" stroke="#3a3a3a" stroke-width="1.2"/>
<line x1="159.34" y1="577.15" x2="159.34" y2="580.85" stroke="#6e6e6e" stroke-width="0.9"/>
<line x1="157.74" y1="578.08" x2="160.94" y2="579.92" stroke="#6e6e6e" stroke-width="0.9"/>
<line x1="160.94" y1="578.08" x2="157.74" y2="579.92" stroke="#6e6e6e" stroke-width="0.9"/>
<line x1="164.86" y1="577.15" x2="164.86" y2="580.85" stroke="#6e6e6e" stroke-width="0.9"/>
<line x1="163.26" y1="578.08" x2="166.46" y2="579.92" stroke="#6e6e6e" stroke-width="0.9"/>
<line x1="166.46" y1="578.08" x2="163.26" y2="579.92" stroke="#6e6e6e" stroke-width="0.9"/>
<line x1="156.57999999999998" y1="572.7" x2="161.64" y2="572.7" stroke="#333" stroke-width="0.85"/>
<line x1="159.10999999999999" y1="570.4000000000001" x2="159.10999999999999" y2="575.0" stroke="#333" stroke-width="0.85"/>
<line x1="162.56" y1="572.7" x2="167.62" y2="572.7" stroke="#333" stroke-width="0.85"/>
<line x1="165.09" y1="570.4000000000001" x2="165.09" y2="575.0" stroke="#333" stroke-width="0.85"/>
<line x1="203.84" y1="555.55" x2="203.84" y2="559.25" stroke="#6e6e6e" stroke-width="0.9"/>
<line x1="202.24" y1="556.48" x2="205.44" y2="558.32" stroke="#6e6e6e" stroke-width="0.9"/>
<line x1="205.44" y1="556.48" x2="202.24" y2="558.32" stroke="#6e6e6e" stroke-width="0.9"/>
<line x1="209.36" y1="555.55" x2="209.36" y2="559.25" stroke="#6e6e6e" stroke-width="0.9"/>
<line x1="207.76" y1="556.48" x2="210.96" y2="558.32" stroke="#6e6e6e" stroke-width="0.9"/>
<line x1="210.96" y1="556.48" x2="207.76" y2="558.32" stroke="#6e6e6e" stroke-width="0.9"/>
<line x1="201.07999999999998" y1="550.1" x2="206.14" y2="550.1" stroke="#333" stroke-width="0.85"/>
<line x1="203.60999999999999" y1="547.8000000000001" x2="203.60999999999999" y2="552.4" stroke="#333" stroke-width="0.85"/>
<line x1="207.06" y1="550.1" x2="212.12" y2="550.1" stroke="#333" stroke-width="0.85"/>
<line x1="209.59" y1="547.8000000000001" x2="209.59" y2="552.4" stroke="#333" stroke-width="0.85"/>
<path d="M245.53,648.74 L248.32,642.66 L251.10,648.74 Z" fill="none" stroke="#222" stroke-width="0.75" stroke-linejoin="miter"/>
<path d="M251.10,648.74 L253.88,642.66 L256.67,648.74 Z" fill="none" stroke="#222" stroke-width="0.75" stroke-linejoin="miter"/>
<path d="M247.91,634.71 Q249.11,637.06 251.07,638.50 Q249.11,639.94 247.91,642.29 Q246.70,639.94 244.74,638.50 Q246.70,637.06 247.91,634.71 Z" fill="#111"/>
<path d="M255.49,634.71 Q256.70,637.06 258.66,638.50 Q256.70,639.94 255.49,642.29 Q254.29,639.94 252.33,638.50 Q254.29,637.06 255.49,634.71 Z" fill="#111"/>
<text transform="translate(9.7,598) rotate(-90)" font-size="8.8" text-anchor="middle" fill="#262626" textLength="36.2" lengthAdjust="spacingAndGlyphs">Rat IL-10</text>
<text transform="translate(21.85,598) rotate(-90)" font-size="8.8" text-anchor="middle" fill="#262626" textLength="88.6" lengthAdjust="spacingAndGlyphs">concentration (pg/mL)</text>
<text x="48.1" y="704.3" font-size="9.5" text-anchor="start" fill="#262626" >(1)&#160;<tspan dx="1.2">M</tspan><tspan font-style="italic">Φ</tspan></text>
<text x="48.1" y="718.5999999999999" font-size="9.5" text-anchor="start" fill="#262626" >(2)&#160;<tspan dx="1.2">M</tspan><tspan font-style="italic">Φ</tspan>+L</text>
<text x="48.1" y="732.9" font-size="9.5" text-anchor="start" fill="#262626" >(3)&#160;<tspan dx="1.2">M</tspan><tspan font-style="italic">Φ</tspan>+L+MSC</text>
<text x="48.1" y="747.1999999999999" font-size="9.5" text-anchor="start" fill="#262626" textLength="109.8" lengthAdjust="spacingAndGlyphs" >(4)<tspan dx="1.6">ConsiRNA M</tspan><tspan font-style="italic">Φ</tspan>+L+MSC</text>
<text x="48.1" y="761.5" font-size="9.5" text-anchor="start" fill="#262626" textLength="127.4" lengthAdjust="spacingAndGlyphs" >(5)<tspan dx="1.2">Dectin-1siRNA M</tspan><tspan font-style="italic">Φ</tspan>+L+MSC</text>
<text x="270.1" y="783.0" font-size="11" text-anchor="middle" fill="#262626" textLength="12.9" lengthAdjust="spacingAndGlyphs" >(b)</text>
</svg>
</body></html>
